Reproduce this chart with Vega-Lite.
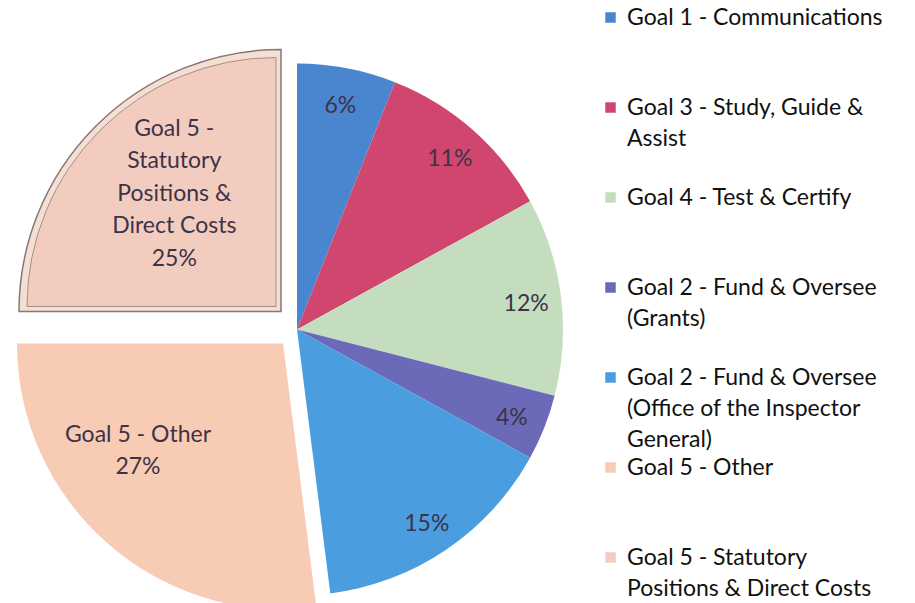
{
  "$schema": "https://vega.github.io/schema/vega-lite/v6.json",
  "width": 594,
  "height": 603,
  "autosize": {"type": "none"},
  "padding": {"left": 0, "top": 0, "right": 321, "bottom": 0},
  "background": "white",
  "config": {"view": {"stroke": null}, "style": {"guide-label": {"lineHeight": 31}}},
  "data": {
    "values": [
      {"rank": 1, "goal": "Goal 1 - Communications", "pct": 6, "label": "6%"},
      {"rank": 2, "goal": "Goal 3 - Study, Guide & Assist", "pct": 11, "label": "11%"},
      {"rank": 3, "goal": "Goal 4 - Test & Certify", "pct": 12, "label": "12%"},
      {"rank": 4, "goal": "Goal 2 - Fund & Oversee (Grants)", "pct": 4, "label": "4%"},
      {"rank": 5, "goal": "Goal 2 - Fund & Oversee (Office of the Inspector General)", "pct": 15, "label": "15%"},
      {"rank": 6, "goal": "Goal 5 - Other", "pct": 27, "label": "Goal 5 - Other\n27%"},
      {"rank": 7, "goal": "Goal 5 - Statutory Positions & Direct Costs", "pct": 25, "label": "Goal 5 -\nStatutory\nPositions &\nDirect Costs\n25%"}
    ]
  },
  "encoding": {
    "theta": {"field": "pct", "type": "quantitative", "stack": true},
    "order": {"field": "rank", "type": "quantitative"}
  },
  "layer": [
    {
      "mark": {"type": "arc", "outerRadius": 266, "yOffset": 28},
      "encoding": {
        "color": {
          "field": "goal",
          "type": "nominal",
          "scale": {
            "domain": [
              "Goal 1 - Communications",
              "Goal 3 - Study, Guide & Assist",
              "Goal 4 - Test & Certify",
              "Goal 2 - Fund & Oversee (Grants)",
              "Goal 2 - Fund & Oversee (Office of the Inspector General)",
              "Goal 5 - Other",
              "Goal 5 - Statutory Positions & Direct Costs"
            ],
            "range": ["#4a86d0", "#d0466e", "#c5ddbf", "#6a6ab8", "#4a9ee0", "#f8cbb5", "#f2cdbf"]
          },
          "legend": {
            "title": null,
            "orient": "none",
            "legendX": 599,
            "legendY": 6,
            "padding": 0,
            "symbolType": "square",
            "symbolSize": 110,
            "symbolStrokeWidth": 0,
            "labelFont": "Lato",
            "labelFontSize": 23,
            "labelColor": "#111111",
            "labelBaseline": "middle",
            "labelOffset": 5,
            "labelLimit": 400,
            "gridAlign": "all",
            "rowPadding": 4,
            "labelExpr": "datum.label == 'Goal 3 - Study, Guide & Assist' ? ['Goal 3 - Study, Guide &', 'Assist'] : datum.label == 'Goal 2 - Fund & Oversee (Grants)' ? ['Goal 2 - Fund & Oversee', '(Grants)'] : datum.label == 'Goal 2 - Fund & Oversee (Office of the Inspector General)' ? ['Goal 2 - Fund & Oversee', '(Office of the Inspector', 'General)'] : datum.label == 'Goal 5 - Statutory Positions & Direct Costs' ? ['Goal 5 - Statutory', 'Positions & Direct Costs'] : datum.label"
          }
        },
        "opacity": {"condition": {"test": "datum.rank <= 5", "value": 1}, "value": 0}
      }
    },
    {
      "mark": {"type": "arc", "outerRadius": 266, "xOffset": -14, "yOffset": 42, "fill": "#f8cbb5"},
      "encoding": {
        "opacity": {"condition": {"test": "datum.rank == 6", "value": 1}, "value": 0}
      }
    },
    {
      "mark": {"type": "arc", "outerRadius": 262, "xOffset": -16, "yOffset": 10, "fill": "#f4e0d2", "stroke": "#8c7474", "strokeWidth": 1.5},
      "encoding": {
        "opacity": {"condition": {"test": "datum.rank == 7", "value": 1}, "value": 0}
      }
    },
    {
      "mark": {"type": "arc", "outerRadius": 249, "xOffset": -21, "yOffset": 5, "fill": "#f2cdbf", "stroke": "#a88c88", "strokeWidth": 1},
      "encoding": {
        "opacity": {"condition": {"test": "datum.rank == 7", "value": 1}, "value": 0}
      }
    },
    {
      "mark": {"type": "text", "radius": 231, "yOffset": 31, "font": "Lato", "fontSize": 23, "fill": "#3d3347", "align": "center", "baseline": "middle"},
      "encoding": {
        "text": {"condition": {"test": "datum.rank <= 5", "field": "label"}, "value": ""}
      }
    },
    {
      "mark": {"type": "text", "radius": 180, "xOffset": -40, "yOffset": -2, "font": "Lato", "fontSize": 23, "fill": "#3d3347", "align": "center", "baseline": "middle", "lineBreak": "\n", "lineHeight": 32},
      "encoding": {
        "text": {"condition": {"test": "datum.rank == 6", "field": "label"}, "value": ""}
      }
    },
    {
      "mark": {"type": "text", "radius": 158, "xOffset": -11, "yOffset": -61, "font": "Lato", "fontSize": 23, "fill": "#3d3347", "align": "center", "baseline": "middle", "lineBreak": "\n", "lineHeight": 32.5},
      "encoding": {
        "text": {"condition": {"test": "datum.rank == 7", "field": "label"}, "value": ""}
      }
    }
  ]
}
